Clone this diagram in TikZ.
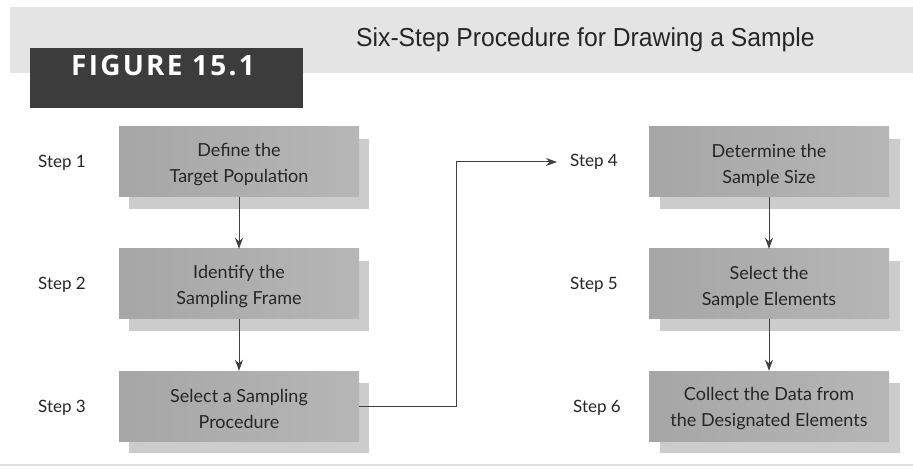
\documentclass[tikz,border=0pt]{standalone}
\usepackage{fontspec}
\setmainfont{Lato}
\newfontfamily\titlefont[FakeStretch=0.95]{Liberation Sans}
\newfontfamily\figfont[LetterSpace=8]{Open Sans}
\usetikzlibrary{arrows.meta}
\definecolor{banner}{HTML}{E4E4E4}
\definecolor{darkbox}{HTML}{3C3C3C}
\definecolor{boxl}{HTML}{A6A6A6}
\definecolor{boxr}{HTML}{B6B6B6}
\definecolor{shadowc}{HTML}{CCCCCC}
\tikzset{
  stepbox/.style={minimum width=240pt, minimum height=70pt, left color=boxl, right color=boxr, inner sep=0pt},
  boxtext/.style={align=center, font=\fontsize{18}{26}\selectfont, text=black!85, inner sep=0pt, yshift=-3pt},
  shadowbox/.style={fill=shadowc, draw=none},
  steplabel/.style={font=\fontsize{17}{20}\selectfont, text=black!85, anchor=west, inner sep=0pt},
  conn/.style={draw=black!75, line width=1pt, -{Stealth[length=11pt,width=8pt]}},
}
\begin{document}
\begin{tikzpicture}[x=1pt,y=-1pt]
\useasboundingbox (0,0) rectangle (913,470);
\fill[white] (0,0) rectangle (913,470);
% banner
\fill[banner] (10,7) rectangle (913,73);
\node[anchor=west, font=\titlefont\fontsize{26}{30}\selectfont, text=black!85, inner sep=0pt] (title) at (356,40) {Six-Step Procedure for Drawing a Sample};
\fill[darkbox] (30,48) rectangle (303,108);
\node[font=\figfont\bfseries\fontsize{28}{32}\selectfont, text=white] (fig) at (163,66) {FIGURE 15.1};
% shadows
\foreach \x/\y in {119/127, 119/249, 119/371, 650/127, 650/249, 650/371}{
  \fill[shadowbox] (\x+10,\y+12) rectangle (\x+250,\y+82);
}
% boxes
\node[stepbox] (b1) at (239,162) {};
\node[stepbox] (b2) at (239,284) {};
\node[stepbox] (b3) at (239,406) {};
\node[stepbox] (b4) at (769,162) {};
\node[stepbox] (b5) at (769,284) {};
\node[stepbox] (b6) at (769,406) {};
\node[boxtext] (t1) at (b1) {Define the\\Target Population};
\node[boxtext] (t2) at (b2) {Identify the\\Sampling Frame};
\node[boxtext] (t3) at (b3) {Select a Sampling\\Procedure};
\node[boxtext] (t4) at (b4) {Determine the\\Sample Size};
\node[boxtext] (t5) at (b5) {Select the\\Sample Elements};
\node[boxtext] (t6) at (b6) {Collect the Data from\\the Designated Elements};
% labels
\node[steplabel] (s1) at (38,163) {Step 1};
\node[steplabel] (s2) at (38,285) {Step 2};
\node[steplabel] (s3) at (38,408) {Step 3};
\node[steplabel] (s4) at (570,162) {Step 4};
\node[steplabel] (s5) at (570,285) {Step 5};
\node[steplabel] (s6) at (573,408) {Step 6};
% connectors
\draw[conn] (b1) -- (b2);
\draw[conn] (b2) -- (b3);
\draw[conn] (b4) -- (b5);
\draw[conn] (b5) -- (b6);
\coordinate (turn) at (456,406);
\draw[conn, shorten >=13pt] (b3.east) -- (turn) |- (s4.west);
% bottom rule
\draw[black!12, line width=1.5pt] (0,465) -- (913,465);
\end{tikzpicture}
\end{document}
